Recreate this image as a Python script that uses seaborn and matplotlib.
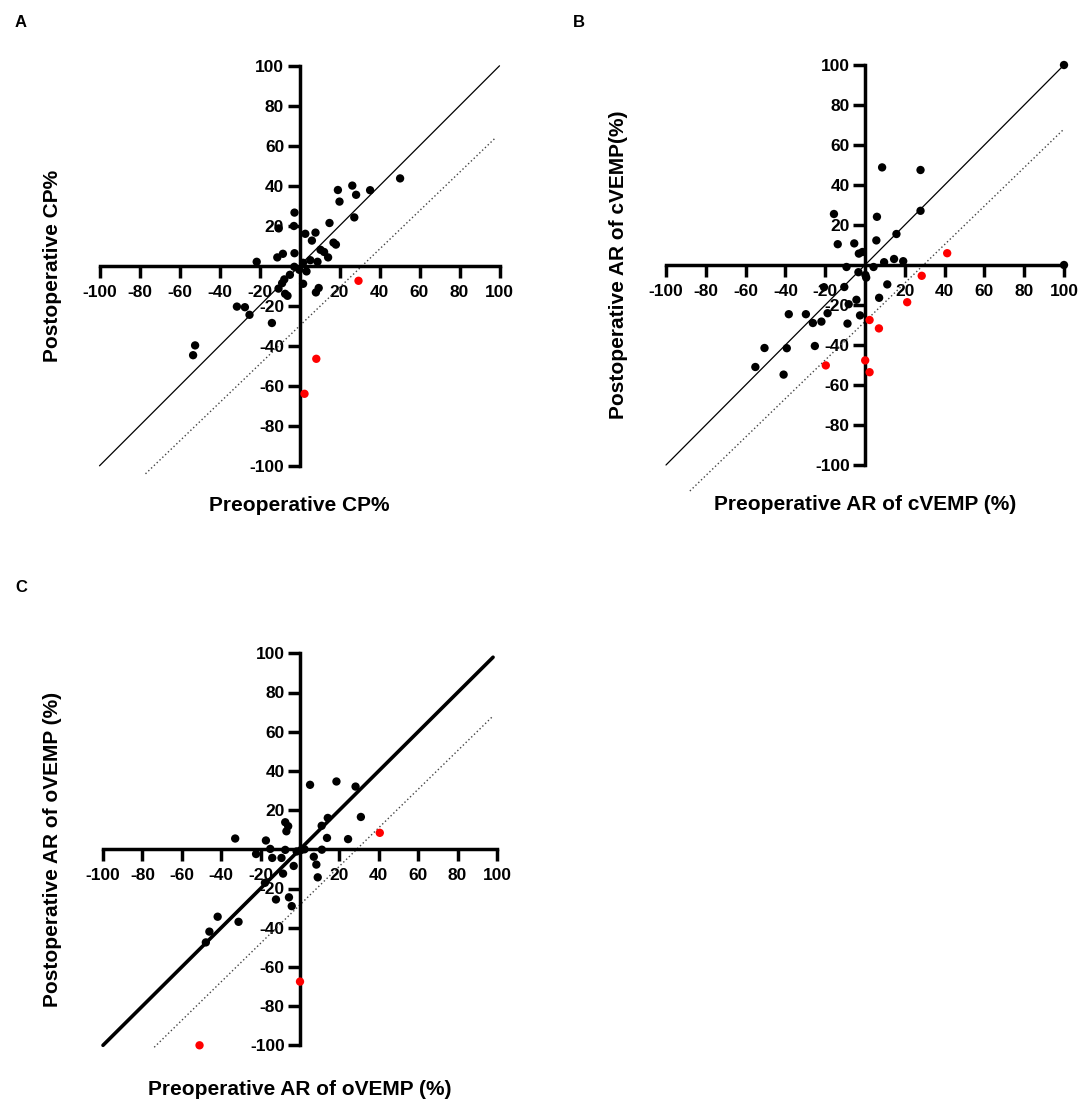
import matplotlib
matplotlib.use("Agg")
import matplotlib.pyplot as plt
import numpy as np
import pandas as pd
import seaborn as sns

# panel A: CP%
a_pre = [50.3, 35.3, 26.4, 28.3, 19.2, 20.0, 27.4, 15.0, -2.5, -2.8, -10.4, 2.9, 8.0, 6.2, 17.0, 18.2,
         10.5, 12.3, 14.3, -2.5, -8.3, -11.1, -21.4, 5.4, 9.0, 1.8, -2.6, -0.1, 3.5, -4.8, -7.6, -8.7,
         -10.5, -7.2, -6.0, 1.8, 9.6, 8.2, -31.3, -27.3, -25.0, -13.8, -52.2, -53.2]
a_post = [43.7, 37.8, 40.1, 35.5, 37.9, 32.1, 24.2, 21.4, 26.6, 19.9, 18.7, 16.0, 16.6, 12.6, 11.6, 10.6,
          8.0, 6.9, 4.2, 6.3, 6.0, 4.2, 2.0, 2.8, 2.0, 1.5, -0.5, -2.0, -2.8, -4.5, -6.8, -8.7,
          -11.4, -14.0, -15.0, -9.0, -11.1, -13.3, -20.4, -20.7, -24.5, -28.6, -39.8, -44.7]
a_pre_red = [29.5, 8.4, 2.5]
a_post_red = [-7.5, -46.5, -64.0]

# panel B: AR of cVEMP
b_pre = [100, 100, 8.6, 27.9, 27.9, -15.6, 6.0, 15.8, 5.7, -13.7, -5.4, -3.1, -1.3, 9.6, 14.6, 19.2,
         -9.3, 4.3, -3.3, 0.2, 0.6, 11.2, -10.4, -20.6, 7.1, -4.3, -8.2, -38.3, -29.7, -18.8, -2.5,
         -26.2, -21.9, -8.8, -50.5, -39.3, -25.2, -55.1, -40.9]
b_post = [100, 0, 48.8, 47.5, 27.1, 25.5, 24.1, 15.5, 12.3, 10.4, 10.8, 5.7, 6.5, 1.4, 3.0, 1.9,
          -1.0, -1.0, -3.6, -5.0, -6.3, -9.7, -11.0, -11.1, -16.4, -17.4, -19.6, -24.6, -24.6, -24.1, -25.2,
          -29.0, -28.3, -29.3, -41.5, -41.6, -40.5, -51.0, -54.8]
b_pre_red = [41.3, 28.5, 21.2, 2.3, 7.0, -19.7, 0.1, 2.3]
b_post_red = [5.9, -5.4, -18.6, -27.5, -31.7, -50.2, -47.7, -53.6]

# panel C: AR of oVEMP
c_pre = [5.1, 18.5, 28.2, 30.9, 14.1, 11.0, -7.5, -6.0, -6.9, 13.7, 24.4, -32.9, -17.3, -22.3, -15.1,
         -14.1, -9.4, -7.5, -1.7, 0.5, 2.3, 11.1, 7.0, -3.2, 8.3, 9.0, -8.6, -17.8, -12.2, -5.6,
         -4.2, -41.8, -31.2, -46.0, -47.8]
c_post = [32.9, 34.6, 32.0, 16.5, 16.0, 12.0, 13.8, 11.8, 9.2, 5.8, 5.2, 5.5, 4.5, -2.4, 0.2,
          -4.4, -4.4, -0.3, -1.1, -0.4, 0.0, -0.2, -3.8, -8.5, -7.8, -14.3, -12.4, -17.1, -25.6, -24.5,
          -29.0, -34.4, -37.0, -42.0, -47.5]
c_pre_red = [40.5, 0.0, -51.0]
c_post_red = [8.4, -67.5, -100.0]

# identity line and lower dotted line (end points)
a_solid_x, a_solid_y = [-100, 100], [-100, 100]
a_dot_x, a_dot_y = [-77, 98], [-104, 64]
b_solid_x, b_solid_y = [-100, 100], [-100, 100]
b_dot_x, b_dot_y = [-88, 100], [-113, 68]
c_solid_x, c_solid_y = [-100, 98], [-100, 98]
c_dot_x, c_dot_y = [-74, 98], [-101, 68]

ticks = [-100, -80, -60, -40, -20, 20, 40, 60, 80, 100]

sns.set_style("ticks")
plt.rcParams['font.family'] = ['Liberation Sans', 'DejaVu Sans']
plt.rcParams['font.weight'] = 'bold'
for key in ['text.color', 'axes.edgecolor', 'axes.labelcolor', 'xtick.color', 'ytick.color']:
    plt.rcParams[key] = 'black'

W, H = 1084, 1100
fig = plt.figure(figsize=(W / 100, H / 100), dpi=100)


def make_panel(x0, y0, sx, sy, pre, post, pre_red, post_red, solid, dotted, solid_lw,
               xlabel, ylabel, letter, letter_xy, lim=(-120, 110)):
    # place axes so data 0 lands on pixel (x0, y0)
    left = x0 + lim[0] * sx
    right = x0 + lim[1] * sx
    top = y0 - lim[1] * sy
    bottom = y0 - lim[0] * sy
    ax = fig.add_axes([left / W, 1 - bottom / H, (right - left) / W, (bottom - top) / H])
    ax.set_xlim(lim)
    ax.set_ylim(lim)

    df = pd.DataFrame({
        'pre': list(pre) + list(pre_red),
        'post': list(post) + list(post_red),
        'grp': ['n'] * len(pre) + ['r'] * len(pre_red),
    })
    ax.plot(solid[0], solid[1], color='black', lw=solid_lw, zorder=2)
    ax.plot(dotted[0], dotted[1], color='#444444', lw=1.0, ls=(0, (1, 1.8)), zorder=2)
    sns.scatterplot(data=df, x='pre', y='post', hue='grp', palette={'n': 'black', 'r': '#ff0000'},
                    s=36, linewidth=0, legend=False, ax=ax, zorder=4)

    for side in ['top', 'right']:
        ax.spines[side].set_visible(False)
    for side in ['left', 'bottom']:
        ax.spines[side].set_position(('data', 0))
        ax.spines[side].set_bounds(-100, 100)
        ax.spines[side].set_linewidth(2.5)
    ax.set_xticks(ticks)
    ax.set_yticks(ticks)
    ax.set_xticklabels([str(t) for t in ticks])
    ax.set_yticklabels([str(t) for t in ticks])
    ax.tick_params(direction='out', length=8.5, width=2.5, labelsize=12.5)
    ax.tick_params(axis='x', pad=5)
    ax.tick_params(axis='y', pad=2.5)
    ax.set_xlabel('')
    ax.set_ylabel('')
    ax.patch.set_visible(False)

    fig.text(x0 / W, 1 - (y0 + 240) / H, xlabel, ha='center', va='center', fontsize=15, fontweight='bold')
    fig.text((x0 - 247) / W, 1 - y0 / H, ylabel, ha='center', va='center', rotation=90,
             fontsize=15, fontweight='bold')
    fig.text(letter_xy[0] / W, 1 - letter_xy[1] / H, letter, ha='left', va='baseline',
             fontsize=12, fontweight='bold')
    return ax


make_panel(299.5, 265.8, 2.0, 2.0, a_pre, a_post, a_pre_red, a_post_red,
           (a_solid_x, a_solid_y), (a_dot_x, a_dot_y), 0.9,
           'Preoperative CP%', 'Postoperative CP%', 'A', (15, 27))
make_panel(865, 265, 1.99, 2.0, b_pre, b_post, b_pre_red, b_post_red,
           (b_solid_x, b_solid_y), (b_dot_x, b_dot_y), 0.9,
           'Preoperative AR of cVEMP (%)', 'Postoperative AR of cVEMP(%)', 'B', (573, 27))
make_panel(300, 849.3, 1.97, 1.96, c_pre, c_post, c_pre_red, c_post_red,
           (c_solid_x, c_solid_y), (c_dot_x, c_dot_y), 2.6,
           'Preoperative AR of oVEMP (%)', 'Postoperative AR of oVEMP (%)', 'C', (15, 592))

fig.savefig('out.png', dpi=100)
